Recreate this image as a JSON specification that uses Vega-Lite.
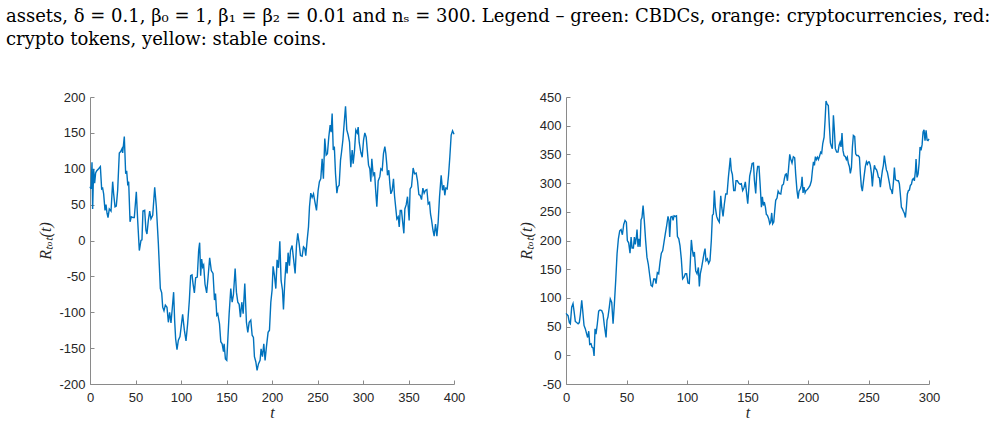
{
  "$schema": "https://vega.github.io/schema/vega-lite/v6.json",
  "padding": {"left": 5, "top": 8, "right": 5, "bottom": 5},
  "title": {
    "text": [
      "assets, δ = 0.1, β₀ = 1, β₁ = β₂ = 0.01 and nₛ = 300. Legend – green: CBDCs, orange: cryptocurrencies, red:",
      "crypto tokens, yellow: stable coins."
    ],
    "anchor": "start",
    "frame": "bounds",
    "dx": -32,
    "offset": 42
  },
  "datasets": {
    "walk_a": [
      {"t":0,"r":75},{"t":1.1,"r":72},{"t":2.2,"r":109},{"t":2.9,"r":44},{"t":4,"r":100},{"t":5.1,"r":80},{"t":6.2,"r":94},{"t":7.3,"r":97},{"t":9.5,"r":100},{"t":11.4,"r":103},{"t":12.8,"r":72},{"t":13.9,"r":73},{"t":15,"r":65},{"t":16.5,"r":42},{"t":17.6,"r":50},{"t":18.7,"r":38},{"t":19.8,"r":32},{"t":21.2,"r":44},{"t":23.1,"r":41},{"t":24.9,"r":82},{"t":26,"r":65},{"t":27.5,"r":47},{"t":28.9,"r":48},{"t":30.4,"r":70},{"t":32.2,"r":122},{"t":33.7,"r":124},{"t":35.2,"r":128},{"t":35.9,"r":122},{"t":37.7,"r":145},{"t":39.2,"r":93},{"t":40.3,"r":97},{"t":41.4,"r":79},{"t":42.5,"r":82},{"t":44,"r":26},{"t":45.4,"r":33},{"t":47.3,"r":32},{"t":48.7,"r":32},{"t":50.9,"r":68},{"t":52.4,"r":28},{"t":54.2,"r":-14},{"t":56,"r":0},{"t":57.1,"r":1},{"t":58.2,"r":41},{"t":60.1,"r":42},{"t":61.5,"r":14},{"t":62.6,"r":9},{"t":64.1,"r":28},{"t":65.6,"r":41},{"t":67,"r":30},{"t":68.9,"r":35},{"t":71.1,"r":74},{"t":72.9,"r":47},{"t":75.1,"r":-4},{"t":77.3,"r":-67},{"t":78.8,"r":-73},{"t":79.9,"r":-93},{"t":81.3,"r":-98},{"t":82.8,"r":-90},{"t":84.6,"r":-93},{"t":86.1,"r":-114},{"t":87.5,"r":-100},{"t":89,"r":-115},{"t":90.5,"r":-93},{"t":91.9,"r":-72},{"t":93,"r":-111},{"t":94.1,"r":-137},{"t":95.6,"r":-152},{"t":97.1,"r":-139},{"t":98.9,"r":-134},{"t":101.8,"r":-103},{"t":103.7,"r":-125},{"t":105.5,"r":-140},{"t":107.3,"r":-116},{"t":109.2,"r":-83},{"t":110.6,"r":-49},{"t":112.1,"r":-48},{"t":113.2,"r":-60},{"t":114.7,"r":-73},{"t":116.1,"r":-52},{"t":117.9,"r":-51},{"t":119.4,"r":-14},{"t":120.5,"r":-3},{"t":121.6,"r":-49},{"t":122.7,"r":-26},{"t":123.8,"r":-37},{"t":124.9,"r":-34},{"t":126.4,"r":-61},{"t":128.2,"r":-73},{"t":129.7,"r":-52},{"t":131.5,"r":-24},{"t":133.3,"r":-42},{"t":135.2,"r":-46},{"t":136.8,"r":-83},{"t":137.9,"r":-74},{"t":139.3,"r":-104},{"t":140.4,"r":-102},{"t":142.3,"r":-116},{"t":143.7,"r":-141},{"t":145.2,"r":-144},{"t":146.7,"r":-155},{"t":147.4,"r":-144},{"t":148.8,"r":-165},{"t":150.3,"r":-167},{"t":151.4,"r":-139},{"t":152.9,"r":-102},{"t":154.7,"r":-67},{"t":156.2,"r":-86},{"t":157.6,"r":-76},{"t":159.5,"r":-39},{"t":160.9,"r":-72},{"t":162.4,"r":-86},{"t":163.9,"r":-89},{"t":165.3,"r":-107},{"t":166.8,"r":-86},{"t":168.3,"r":-102},{"t":170.1,"r":-60},{"t":171.9,"r":-114},{"t":173.4,"r":-128},{"t":174.9,"r":-114},{"t":176.7,"r":-111},{"t":178.2,"r":-132},{"t":179.6,"r":-135},{"t":180.7,"r":-162},{"t":182.2,"r":-169},{"t":183.6,"r":-181},{"t":185.1,"r":-172},{"t":186.9,"r":-167},{"t":188,"r":-151},{"t":189.5,"r":-162},{"t":191,"r":-144},{"t":192.4,"r":-167},{"t":193.9,"r":-148},{"t":195.7,"r":-128},{"t":197.2,"r":-125},{"t":198.7,"r":-86},{"t":200.1,"r":-69},{"t":201.2,"r":-36},{"t":202.7,"r":-49},{"t":204.2,"r":-67},{"t":205.6,"r":-27},{"t":207.1,"r":-38},{"t":208.6,"r":-1},{"t":210,"r":-56},{"t":211.5,"r":-69},{"t":212.6,"r":-96},{"t":214.1,"r":-56},{"t":215.5,"r":-30},{"t":216.6,"r":-46},{"t":217.7,"r":-17},{"t":219.2,"r":-35},{"t":220.3,"r":-14},{"t":222.1,"r":-7},{"t":223.6,"r":-25},{"t":225.4,"r":-46},{"t":226.9,"r":-7},{"t":228.3,"r":10},{"t":229.8,"r":-4},{"t":231.3,"r":-21},{"t":233.1,"r":-22},{"t":234.6,"r":-9},{"t":236,"r":-11},{"t":237.1,"r":-21},{"t":238.6,"r":0},{"t":240.1,"r":19},{"t":241.2,"r":47},{"t":242.6,"r":66},{"t":244.1,"r":60},{"t":245.6,"r":65},{"t":247,"r":55},{"t":248.9,"r":42},{"t":250.7,"r":70},{"t":252.1,"r":82},{"t":253.6,"r":86},{"t":255.1,"r":114},{"t":256.5,"r":86},{"t":258,"r":142},{"t":259.5,"r":119},{"t":260.9,"r":121},{"t":262.4,"r":144},{"t":263.9,"r":161},{"t":265,"r":151},{"t":266.1,"r":177},{"t":267.3,"r":126},{"t":268.5,"r":131},{"t":269.8,"r":93},{"t":271.3,"r":66},{"t":272.4,"r":75},{"t":273.8,"r":77},{"t":275.3,"r":112},{"t":276.4,"r":123},{"t":277.9,"r":140},{"t":279.3,"r":163},{"t":280.8,"r":187},{"t":282.2,"r":154},{"t":283.7,"r":147},{"t":285.2,"r":137},{"t":286.6,"r":102},{"t":288.1,"r":126},{"t":289.2,"r":107},{"t":290.7,"r":126},{"t":292.1,"r":154},{"t":293.6,"r":150},{"t":294.7,"r":158},{"t":295.8,"r":137},{"t":297.6,"r":123},{"t":299.1,"r":116},{"t":300.6,"r":140},{"t":302,"r":150},{"t":303.5,"r":144},{"t":304.9,"r":123},{"t":306.1,"r":105},{"t":307.5,"r":100},{"t":308.6,"r":82},{"t":309.7,"r":114},{"t":311.2,"r":91},{"t":312.7,"r":95},{"t":313.8,"r":72},{"t":315.2,"r":47},{"t":316.7,"r":83},{"t":318.5,"r":89},{"t":319.6,"r":100},{"t":321.1,"r":98},{"t":322.5,"r":121},{"t":324,"r":131},{"t":325.1,"r":121},{"t":326.2,"r":105},{"t":326.9,"r":91},{"t":328.4,"r":98},{"t":329.5,"r":79},{"t":330.6,"r":65},{"t":332.1,"r":70},{"t":333.5,"r":86},{"t":334.6,"r":63},{"t":336.1,"r":44},{"t":337.2,"r":30},{"t":338.7,"r":33},{"t":339.8,"r":19},{"t":340.9,"r":42},{"t":342.3,"r":42},{"t":343.4,"r":28},{"t":344.9,"r":10},{"t":346,"r":44},{"t":347.5,"r":50},{"t":348.9,"r":61},{"t":350.7,"r":28},{"t":351.8,"r":72},{"t":353.3,"r":75},{"t":355.1,"r":101},{"t":356.6,"r":93},{"t":358.4,"r":94},{"t":359.9,"r":83},{"t":361.4,"r":64},{"t":362.8,"r":63},{"t":364.3,"r":57},{"t":365.8,"r":73},{"t":367.2,"r":66},{"t":368.7,"r":70},{"t":370.2,"r":71},{"t":371.6,"r":51},{"t":373.1,"r":53},{"t":374.2,"r":37},{"t":375.3,"r":29},{"t":376.8,"r":15},{"t":378.2,"r":6},{"t":379.7,"r":23},{"t":381.2,"r":6},{"t":382.6,"r":26},{"t":384.1,"r":61},{"t":385.9,"r":91},{"t":387.4,"r":70},{"t":388.8,"r":77},{"t":389.9,"r":63},{"t":391,"r":73},{"t":392.5,"r":72},{"t":394,"r":91},{"t":395.4,"r":116},{"t":396.9,"r":147},{"t":398.4,"r":153},{"t":400,"r":148}
    ],
    "walk_b": [
      {"t":0,"r":73},{"t":1.7,"r":69},{"t":2.8,"r":57},{"t":3.6,"r":55},{"t":4.7,"r":84},{"t":5.8,"r":90},{"t":6.6,"r":78},{"t":7.7,"r":59},{"t":8.8,"r":57},{"t":10,"r":55},{"t":11,"r":57},{"t":11.9,"r":72},{"t":13,"r":96},{"t":13.8,"r":78},{"t":14.9,"r":52},{"t":16,"r":46},{"t":17.1,"r":37},{"t":17.9,"r":31},{"t":18.8,"r":42},{"t":19.6,"r":19},{"t":20.7,"r":20},{"t":21.5,"r":14},{"t":22.4,"r":13},{"t":23.2,"r":-1},{"t":24,"r":46},{"t":24.8,"r":37},{"t":25.9,"r":55},{"t":27,"r":77},{"t":28.1,"r":79},{"t":29.5,"r":78},{"t":30.6,"r":72},{"t":31.7,"r":52},{"t":33.1,"r":31},{"t":33.9,"r":61},{"t":34.7,"r":67},{"t":35.8,"r":84},{"t":36.6,"r":98},{"t":37.8,"r":92},{"t":38.9,"r":55},{"t":40,"r":90},{"t":41.1,"r":131},{"t":42.2,"r":177},{"t":43.3,"r":203},{"t":44.4,"r":217},{"t":45.5,"r":219},{"t":46.6,"r":210},{"t":47.7,"r":228},{"t":48.8,"r":235},{"t":49.9,"r":232},{"t":50.7,"r":200},{"t":51.8,"r":196},{"t":52.9,"r":178},{"t":53.8,"r":206},{"t":54.6,"r":187},{"t":55.7,"r":187},{"t":56.5,"r":206},{"t":57.3,"r":193},{"t":58.2,"r":207},{"t":58.7,"r":219},{"t":59.5,"r":189},{"t":60.3,"r":203},{"t":61.2,"r":189},{"t":62,"r":236},{"t":62.8,"r":240},{"t":63.7,"r":261},{"t":64.7,"r":235},{"t":65.8,"r":200},{"t":66.9,"r":171},{"t":68,"r":159},{"t":69.2,"r":139},{"t":70.3,"r":122},{"t":71.4,"r":120},{"t":72.5,"r":133},{"t":73.6,"r":133},{"t":74.4,"r":125},{"t":75.5,"r":144},{"t":76.6,"r":142},{"t":77.7,"r":162},{"t":78.8,"r":178},{"t":79.9,"r":182},{"t":81,"r":197},{"t":82.1,"r":212},{"t":83.2,"r":226},{"t":84.3,"r":242},{"t":85.1,"r":235},{"t":85.7,"r":206},{"t":86.6,"r":241},{"t":87.7,"r":242},{"t":88.5,"r":235},{"t":89.3,"r":243},{"t":90.4,"r":242},{"t":91.3,"r":243},{"t":92.1,"r":207},{"t":93.2,"r":203},{"t":94.2,"r":191},{"t":95.3,"r":168},{"t":96.4,"r":133},{"t":97.5,"r":136},{"t":98.6,"r":142},{"t":99.7,"r":142},{"t":100.8,"r":126},{"t":101.9,"r":125},{"t":102.8,"r":165},{"t":103.6,"r":201},{"t":104.4,"r":184},{"t":105.3,"r":172},{"t":106.1,"r":180},{"t":107.2,"r":147},{"t":108.3,"r":142},{"t":109.4,"r":153},{"t":110.2,"r":120},{"t":111,"r":142},{"t":112.1,"r":153},{"t":113.3,"r":168},{"t":114.1,"r":178},{"t":114.9,"r":186},{"t":115.7,"r":165},{"t":116.8,"r":168},{"t":117.9,"r":160},{"t":119,"r":165},{"t":120.1,"r":200},{"t":121,"r":244},{"t":121.8,"r":246},{"t":122.6,"r":287},{"t":123.4,"r":258},{"t":124.5,"r":242},{"t":125.6,"r":236},{"t":126.7,"r":232},{"t":127.9,"r":278},{"t":128.7,"r":258},{"t":129.8,"r":242},{"t":130.9,"r":264},{"t":132,"r":281},{"t":133.1,"r":281},{"t":134.2,"r":310},{"t":135,"r":327},{"t":135.8,"r":344},{"t":136.6,"r":322},{"t":137.5,"r":315},{"t":138.6,"r":287},{"t":139.7,"r":287},{"t":140.5,"r":304},{"t":141.6,"r":304},{"t":142.7,"r":300},{"t":143.8,"r":298},{"t":144.9,"r":299},{"t":146,"r":287},{"t":147.1,"r":292},{"t":148.2,"r":302},{"t":149,"r":287},{"t":150.2,"r":264},{"t":151.8,"r":312},{"t":152.9,"r":323},{"t":153.8,"r":334},{"t":154.9,"r":335},{"t":155.7,"r":305},{"t":156.8,"r":282},{"t":157.6,"r":316},{"t":158.4,"r":329},{"t":159.5,"r":329},{"t":160.4,"r":299},{"t":161.5,"r":258},{"t":162.3,"r":276},{"t":163.1,"r":261},{"t":163.9,"r":267},{"t":164.8,"r":258},{"t":165.6,"r":245},{"t":166.4,"r":244},{"t":167.5,"r":238},{"t":168.4,"r":229},{"t":169.2,"r":232},{"t":170,"r":248},{"t":170.8,"r":229},{"t":171.7,"r":232},{"t":172.5,"r":252},{"t":173.3,"r":270},{"t":174.4,"r":274},{"t":175.3,"r":286},{"t":176.3,"r":282},{"t":177.5,"r":281},{"t":178.6,"r":296},{"t":179.7,"r":298},{"t":180.5,"r":308},{"t":181.3,"r":315},{"t":182.1,"r":316},{"t":183,"r":304},{"t":183.8,"r":322},{"t":184.9,"r":350},{"t":185.7,"r":342},{"t":186.8,"r":335},{"t":187.9,"r":346},{"t":189,"r":344},{"t":189.8,"r":316},{"t":190.9,"r":287},{"t":191.8,"r":273},{"t":192.6,"r":286},{"t":193.7,"r":290},{"t":194.5,"r":296},{"t":195.1,"r":311},{"t":195.9,"r":283},{"t":196.7,"r":293},{"t":197.6,"r":283},{"t":198.4,"r":287},{"t":199.5,"r":289},{"t":200.6,"r":292},{"t":201.7,"r":296},{"t":202.8,"r":304},{"t":203.6,"r":321},{"t":204.5,"r":337},{"t":205.3,"r":331},{"t":206.1,"r":346},{"t":206.9,"r":341},{"t":207.8,"r":345},{"t":208.6,"r":341},{"t":209.4,"r":346},{"t":210.5,"r":354},{"t":211.3,"r":352},{"t":212.2,"r":369},{"t":213.3,"r":380},{"t":214.1,"r":409},{"t":214.9,"r":443},{"t":215.7,"r":438},{"t":216.8,"r":435},{"t":217.7,"r":398},{"t":218.5,"r":370},{"t":219.3,"r":364},{"t":220.1,"r":360},{"t":221,"r":418},{"t":221.8,"r":392},{"t":222.6,"r":360},{"t":223.7,"r":354},{"t":224.8,"r":354},{"t":225.7,"r":366},{"t":226.5,"r":371},{"t":227.3,"r":363},{"t":228.1,"r":387},{"t":228.9,"r":357},{"t":229.8,"r":348},{"t":230.9,"r":346},{"t":231.7,"r":341},{"t":232.5,"r":345},{"t":233.4,"r":334},{"t":234.2,"r":329},{"t":235,"r":317},{"t":235.9,"r":327},{"t":236.7,"r":363},{"t":237.5,"r":383},{"t":238.6,"r":381},{"t":239.4,"r":351},{"t":240.3,"r":348},{"t":241.4,"r":348},{"t":242.5,"r":345},{"t":243.3,"r":316},{"t":244.1,"r":294},{"t":244.9,"r":286},{"t":245.8,"r":302},{"t":246.6,"r":316},{"t":247.4,"r":329},{"t":248.3,"r":337},{"t":249.1,"r":333},{"t":249.9,"r":337},{"t":250.7,"r":337},{"t":251.5,"r":331},{"t":252.4,"r":317},{"t":253.2,"r":294},{"t":254,"r":316},{"t":254.9,"r":331},{"t":255.7,"r":325},{"t":256.5,"r":324},{"t":257.3,"r":319},{"t":258.2,"r":310},{"t":259,"r":309},{"t":259.8,"r":293},{"t":260.6,"r":308},{"t":261.5,"r":322},{"t":262.3,"r":331},{"t":263.1,"r":348},{"t":264,"r":334},{"t":264.8,"r":323},{"t":265.6,"r":319},{"t":266.4,"r":310},{"t":267.3,"r":300},{"t":268.1,"r":290},{"t":268.9,"r":288},{"t":269.7,"r":281},{"t":270.6,"r":302},{"t":271.4,"r":327},{"t":272.2,"r":306},{"t":273,"r":305},{"t":273.9,"r":304},{"t":274.7,"r":304},{"t":275.5,"r":299},{"t":276.3,"r":281},{"t":277.2,"r":258},{"t":278,"r":255},{"t":278.8,"r":251},{"t":279.7,"r":247},{"t":280.5,"r":240},{"t":281.3,"r":258},{"t":282.1,"r":281},{"t":283,"r":287},{"t":283.8,"r":288},{"t":284.6,"r":296},{"t":285.5,"r":298},{"t":286.3,"r":306},{"t":287.1,"r":308},{"t":287.9,"r":304},{"t":288.8,"r":322},{"t":289.3,"r":342},{"t":290.1,"r":310},{"t":291,"r":316},{"t":291.8,"r":334},{"t":292.6,"r":363},{"t":293.4,"r":357},{"t":294.3,"r":367},{"t":295.1,"r":389},{"t":295.9,"r":393},{"t":296.7,"r":374},{"t":297.6,"r":392},{"t":298.4,"r":375},{"t":299.2,"r":374},{"t":300,"r":377}
    ]
  },
  "bounds": "flush",
  "spacing": 112,
  "hconcat": [
    {
      "data": {"name": "walk_a"},
      "width": 364,
      "height": 287,
      "mark": {"type": "line", "color": "#0072BD", "strokeWidth": 1.4, "interpolate": "linear"},
      "encoding": {
        "x": {
          "field": "t", "type": "quantitative", "title": "t",
          "scale": {"domain": [0, 400], "nice": false, "zero": false},
          "axis": {"values": [0, 50, 100, 150, 200, 250, 300, 350, 400]}
        },
        "y": {
          "field": "r", "type": "quantitative", "title": "Rₜₒₜ(t)",
          "scale": {"domain": [-200, 200], "nice": false, "zero": false},
          "axis": {"values": [-200, -150, -100, -50, 0, 50, 100, 150, 200]}
        }
      }
    },
    {
      "data": {"name": "walk_b"},
      "width": 363,
      "height": 287,
      "mark": {"type": "line", "color": "#0072BD", "strokeWidth": 1.4, "interpolate": "linear"},
      "encoding": {
        "x": {
          "field": "t", "type": "quantitative", "title": "t",
          "scale": {"domain": [0, 300], "nice": false, "zero": false},
          "axis": {"values": [0, 50, 100, 150, 200, 250, 300]}
        },
        "y": {
          "field": "r", "type": "quantitative", "title": "Rₜₒₜ(t)",
          "scale": {"domain": [-50, 450], "nice": false, "zero": false},
          "axis": {"values": [-50, 0, 50, 100, 150, 200, 250, 300, 350, 400, 450]}
        }
      }
    }
  ],
  "config": {
    "view": {"stroke": null},
    "title": {
      "font": "DejaVu Serif",
      "fontSize": 18,
      "fontWeight": "normal",
      "color": "#000000",
      "lineHeight": 23,
      "baseline": "top"
    },
    "axis": {
      "grid": false,
      "domainColor": "#8a8a8a",
      "domainWidth": 1,
      "tickColor": "#8a8a8a",
      "tickSize": -4,
      "labelPadding": 9,
      "labelFont": "Liberation Sans",
      "labelFontSize": 13,
      "labelColor": "#262626",
      "labelExpr": "toString(datum.value)",
      "labelFlush": false,
      "labelOverlap": false,
      "titleFont": "Liberation Serif",
      "titleFontStyle": "italic",
      "titleFontWeight": "normal",
      "titleFontSize": 16,
      "titleColor": "#262626"
    },
    "axisX": {"titlePadding": 0, "labelPadding": 11},
    "axisY": {"titlePadding": 5}
  }
}
